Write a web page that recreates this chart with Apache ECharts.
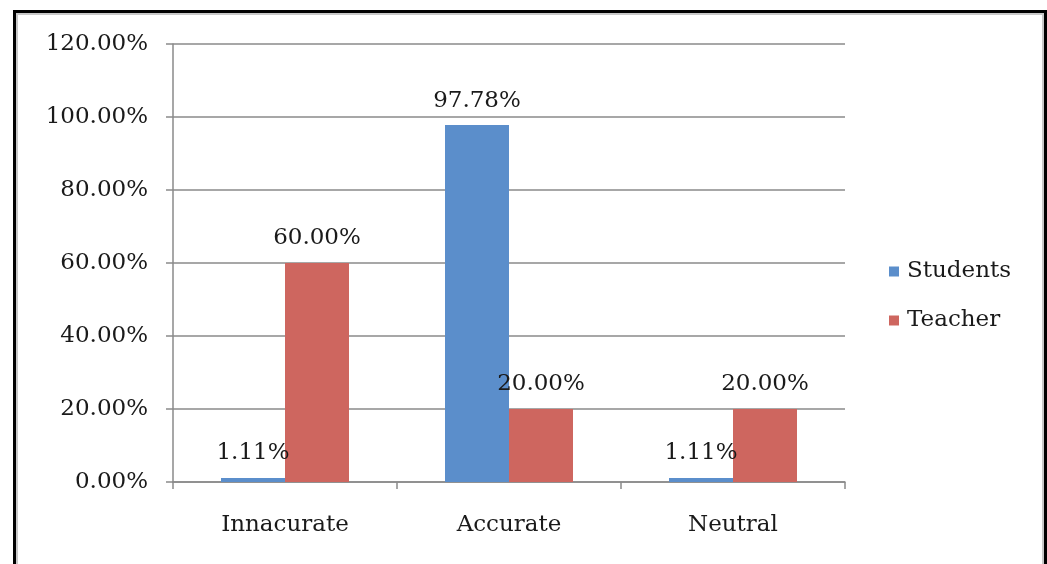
<!DOCTYPE html>
<html>
<head>
<meta charset="utf-8">
<script src="https://cdn.jsdelivr.net/npm/echarts@6/dist/echarts.min.js"></script>
<style>
  html, body { margin: 0; padding: 0; background: #fff; }
  #chart { width: 1047px; height: 564px; }
</style>
</head>
<body>
<div id="chart"></div>
<script>
// Perception of accuracy, students vs. teacher (percent)
const categories = ['Innacurate', 'Accurate', 'Neutral'];
const students = [1.11, 97.78, 1.11];
const teacher = [60.00, 20.00, 20.00];
const seriesNames = ['Students', 'Teacher'];
const yTicks = { min: 0, max: 120, step: 20 };

const FONT = 'DejaVu Serif';
const FS = 23;
const TEXT = '#1a1a1a';
const AXIS = '#8a8a8a';

const pct = v => Number(v).toFixed(2) + '%';

const chart = echarts.init(document.getElementById('chart'), null, { renderer: 'canvas' });

const barLabel = {
  show: true,
  position: 'top',
  distance: 13,
  fontFamily: FONT,
  fontSize: FS,
  color: TEXT,
  formatter: p => pct(p.value)
};

chart.setOption({
  animation: false,
  backgroundColor: '#fff',
  textStyle: { fontFamily: FONT },
  graphic: [
    {
      type: 'rect',
      silent: true,
      shape: { x: 14.5, y: 11.5, width: 1031, height: 620 },
      style: { fill: 'none', stroke: '#000', lineWidth: 3 }
    },
    {
      type: 'rect',
      silent: true,
      shape: { x: 17, y: 14, width: 1026, height: 620 },
      style: { fill: 'none', stroke: '#c8c8c8', lineWidth: 2 }
    }
  ],
  grid: { left: 173, right: 202, top: 44, bottom: 82 },
  legend: {
    orient: 'vertical',
    left: 884,
    top: 253,
    padding: 5,
    icon: 'rect',
    itemWidth: 10,
    itemHeight: 10,
    itemGap: 22,
    textStyle: { fontFamily: FONT, fontSize: FS, color: TEXT, lineHeight: 27, padding: [0, 0, 0, 3] },
    data: seriesNames
  },
  xAxis: {
    type: 'category',
    data: categories,
    axisLine: { show: true, lineStyle: { color: AXIS, width: 1.5 } },
    axisTick: { show: true, length: 7, alignWithLabel: false, lineStyle: { color: AXIS, width: 1.5 } },
    axisLabel: { fontFamily: FONT, fontSize: FS, color: TEXT, margin: 32 }
  },
  yAxis: {
    type: 'value',
    min: yTicks.min,
    max: yTicks.max,
    interval: yTicks.step,
    axisLine: { show: true, lineStyle: { color: AXIS, width: 1.5 } },
    axisTick: { show: true, length: 7, lineStyle: { color: AXIS, width: 1.5 } },
    splitLine: { show: true, lineStyle: { color: AXIS, width: 1.5 } },
    axisLabel: { fontFamily: FONT, fontSize: FS, color: TEXT, margin: 25, formatter: v => pct(v) }
  },
  series: [
    {
      name: seriesNames[0],
      type: 'bar',
      data: students,
      barWidth: 64,
      barGap: '0%',
      itemStyle: { color: '#5b8ecb' },
      label: barLabel
    },
    {
      name: seriesNames[1],
      type: 'bar',
      data: teacher,
      barWidth: 64,
      barGap: '0%',
      itemStyle: { color: '#ce665f' },
      label: barLabel
    }
  ]
});
</script>
</body>
</html>
